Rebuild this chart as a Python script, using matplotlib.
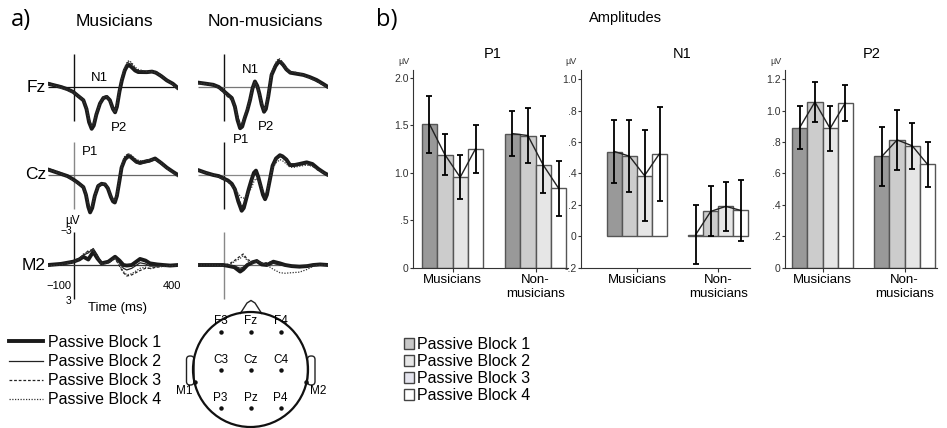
import numpy as np
import matplotlib
matplotlib.use("Agg")
import matplotlib.pyplot as plt
from matplotlib.lines import Line2D
from matplotlib.patches import Patch, Circle, Polygon, FancyBboxPatch

plt.rcParams['font.family'] = ['Liberation Sans', 'DejaVu Sans']

W, H = 947, 428

# ---------------- ERP data (time in ms, amplitude in uV, positive down) ----------------
blocks = ['Passive Block 1', 'Passive Block 2', 'Passive Block 3', 'Passive Block 4']

fz_mus_t = [-100, -75, -50, -25, -3, 15, 36, 48, 58, 68, 76, 86, 100, 113, 126, 138, 150, 158, 165, 175, 184,
            195, 205, 212, 222, 235, 247, 280, 300, 315, 335, 357, 380, 400]
fz_mus_b1 = [-0.3, -0.15, 0.0, 0.2, 0.45, 0.8, 1.2, 2.0, 3.2, 3.8, 3.5, 2.5, 1.5, 1.0, 0.9, 1.2, 2.0, 2.3, 1.8, 0.4,
             -0.6, -1.5, -1.95, -2.0, -1.8, -1.5, -1.36, -1.35, -1.4, -1.3, -1.0, -0.6, -0.3, 0.1]
fz_mus_b2 = [-0.3, -0.15, 0.0, 0.2, 0.4, 0.75, 1.1, 1.9, 3.0, 3.6, 3.3, 2.4, 1.4, 0.9, 0.8, 1.1, 1.9, 2.2, 1.7, 0.3,
             -0.7, -1.6, -2.0, -2.1, -1.9, -1.6, -1.4, -1.3, -1.35, -1.3, -1.0, -0.6, -0.3, 0.1]
fz_mus_b3 = [-0.4, -0.2, -0.1, 0.2, 0.5, 0.9, 1.3, 2.0, 3.0, 3.6, 3.5, 2.6, 1.6, 1.1, 1.0, 1.3, 2.1, 2.4, 1.7, 0.2,
             -0.8, -1.7, -2.2, -2.3, -2.1, -1.7, -1.5, -1.4, -1.45, -1.4, -1.1, -0.7, -0.2, 0.2]
fz_mus_b4 = [-0.3, -0.1, 0.1, 0.3, 0.5, 0.8, 1.2, 1.9, 2.9, 3.5, 3.3, 2.4, 1.5, 1.0, 0.9, 1.3, 2.0, 2.3, 1.6, 0.2,
             -0.9, -1.8, -2.3, -2.4, -2.2, -1.8, -1.6, -1.4, -1.4, -1.3, -1.0, -0.6, -0.2, 0.3]

fz_non_t = [-100, -70, -41, -20, -3, 15, 30, 42, 52, 62, 70, 80, 90, 100, 110, 119, 128, 136, 145, 154, 161, 170,
            183, 198, 210, 218, 228, 240, 255, 280, 305, 330, 356, 380, 400]
fz_non_b1 = [-0.4, -0.3, -0.2, 0.0, 0.33, 0.7, 1.0, 1.8, 3.0, 3.75, 3.6, 2.8, 2.1, 1.2, 0.1, -0.5, -0.1, 0.6, 1.6,
             2.25, 2.0, 0.9, -1.1, -1.9, -2.3, -2.25, -2.0, -1.6, -1.3, -1.2, -1.1, -0.9, -0.64, -0.3, 0.0]
fz_non_b2 = [-0.4, -0.3, -0.2, 0.0, 0.3, 0.65, 0.9, 1.7, 2.9, 3.6, 3.5, 2.7, 2.0, 1.1, 0.1, -0.5, 0.0, 0.7, 1.6,
             2.2, 1.9, 0.8, -1.2, -2.0, -2.3, -2.2, -1.9, -1.5, -1.3, -1.2, -1.1, -0.9, -0.6, -0.3, 0.0]
fz_non_b3 = [-0.4, -0.2, -0.1, 0.1, 0.5, 0.9, 1.2, 1.8, 2.6, 3.3, 3.3, 2.7, 2.0, 1.2, 0.2, -0.4, 0.0, 0.7, 1.5,
             2.1, 1.8, 0.7, -1.3, -2.1, -2.5, -2.4, -2.1, -1.7, -1.4, -1.3, -1.1, -0.9, -0.5, -0.2, 0.1]
fz_non_b4 = [-0.3, -0.3, -0.2, 0.1, 0.4, 0.8, 1.1, 1.7, 2.7, 3.4, 3.3, 2.6, 1.9, 1.1, 0.1, -0.4, -0.1, 0.6, 1.4,
             2.0, 1.7, 0.7, -1.3, -2.2, -2.6, -2.5, -2.1, -1.7, -1.4, -1.3, -1.1, -0.8, -0.5, -0.2, 0.1]

cz_mus_t = [-100, -75, -50, -25, -3, 15, 36, 46, 55, 62, 70, 80, 93, 106, 119, 130, 142, 150, 157, 165, 175, 183,
            195, 207, 215, 225, 240, 254, 270, 290, 312, 335, 357, 380, 400]
cz_mus_b1 = [-0.5, -0.3, -0.1, 0.1, 0.4, 0.7, 1.1, 1.8, 2.9, 3.4, 3.0, 1.9, 1.0, 0.8, 0.85, 1.2, 2.0, 2.4, 2.5, 1.9,
             0.5, -0.67, -1.4, -1.7, -1.7, -1.5, -1.2, -1.1, -1.2, -1.3, -1.5, -1.1, -0.67, -0.3, 0.0]
cz_mus_b2 = [-0.5, -0.3, -0.1, 0.1, 0.4, 0.7, 1.0, 1.7, 2.7, 3.2, 2.8, 1.8, 1.0, 0.8, 0.8, 1.1, 1.9, 2.3, 2.4, 1.8,
             0.5, -0.6, -1.3, -1.6, -1.6, -1.4, -1.1, -1.0, -1.1, -1.2, -1.4, -1.0, -0.6, -0.3, 0.0]
cz_mus_b3 = [-0.6, -0.4, -0.2, 0.1, 0.5, 0.8, 1.2, 1.8, 2.6, 3.1, 2.9, 2.0, 1.1, 0.9, 0.9, 1.2, 2.0, 2.3, 2.4, 1.8,
             0.4, -0.8, -1.6, -1.9, -1.9, -1.6, -1.3, -1.2, -1.3, -1.4, -1.5, -1.2, -0.7, -0.3, 0.1]
cz_mus_b4 = [-0.5, -0.3, -0.1, 0.2, 0.5, 0.8, 1.1, 1.7, 2.5, 3.0, 2.8, 1.9, 1.0, 0.8, 0.8, 1.1, 1.9, 2.2, 2.3, 1.7,
             0.3, -0.9, -1.7, -1.9, -1.9, -1.7, -1.4, -1.3, -1.3, -1.4, -1.4, -1.1, -0.6, -0.2, 0.2]

cz_non_t = [-100, -70, -41, -20, -3, 15, 30, 42, 55, 68, 76, 85, 95, 105, 115, 123, 132, 141, 150, 158, 165, 175,
            187, 200, 215, 225, 240, 254, 270, 290, 318, 340, 363, 385, 400]
cz_non_b1 = [-0.45, -0.2, 0.0, 0.1, 0.3, 0.5, 0.8, 1.3, 2.4, 3.25, 3.0, 2.2, 1.3, 0.5, -0.2, -0.4, 0.2, 1.0, 1.8,
             2.2, 1.8, 0.6, -0.85, -1.5, -1.8, -1.7, -1.4, -0.9, -0.9, -1.0, -1.15, -1.0, -0.55, -0.2, 0.0]
cz_non_b2 = [-0.45, -0.2, 0.0, 0.1, 0.3, 0.5, 0.8, 1.2, 2.2, 3.0, 2.8, 2.1, 1.3, 0.5, -0.1, -0.3, 0.2, 1.0, 1.7,
             2.1, 1.7, 0.5, -0.9, -1.5, -1.8, -1.7, -1.4, -1.0, -1.0, -1.0, -1.1, -0.9, -0.5, -0.2, 0.0]
cz_non_b3 = [-0.4, -0.2, 0.0, 0.2, 0.4, 0.6, 0.9, 1.3, 2.1, 2.8, 2.7, 2.1, 1.4, 0.6, 0.0, -0.2, 0.3, 1.0, 1.6,
             2.0, 1.6, 0.5, -0.8, -1.4, -1.7, -1.6, -1.3, -0.9, -0.9, -0.9, -1.0, -0.8, -0.5, -0.2, 0.1]
cz_non_b4 = [-0.4, -0.2, 0.0, 0.2, 0.3, 0.6, 1.0, 1.3, 1.7, 2.1, 2.1, 1.9, 1.6, 1.2, 0.6, 0.3, 0.5, 0.9, 1.4,
             1.8, 1.5, 0.5, -0.6, -1.1, -1.4, -1.3, -1.0, -0.7, -0.7, -0.8, -0.9, -0.8, -0.4, -0.2, 0.1]

m2_mus_t = [-100, -50, -3, 20, 36, 55, 74, 90, 106, 132, 158, 175, 190, 203, 222, 254, 275, 292, 320, 343, 370, 400]
m2_mus_b1 = [0.0, -0.1, -0.3, -0.5, -0.75, -0.5, -1.2, -0.6, -0.15, -0.3, -0.75, -0.4, 0.0, 0.05, 0.0, -0.55,
             -0.4, -0.15, -0.05, 0.0, 0.05, 0.0]
m2_mus_b2 = [0.0, -0.1, -0.35, -0.6, -0.9, -1.1, -1.5, -0.9, -0.2, -0.3, -0.7, -0.2, 0.3, 0.45, 0.3, -0.2,
             -0.1, 0.1, 0.1, 0.0, 0.05, 0.0]
m2_mus_b3 = [0.1, -0.05, -0.3, -0.6, -0.9, -1.3, -1.4, -0.8, -0.1, -0.2, -0.6, 0.1, 0.7, 1.0, 0.9, 0.5,
             0.3, 0.3, 0.2, 0.1, 0.1, 0.05]
m2_mus_b4 = [0.05, 0.0, -0.25, -0.5, -1.0, -1.2, -1.3, -0.7, -0.05, -0.2, -0.6, 0.0, 0.6, 0.9, 0.8, 0.3,
             0.2, 0.35, 0.15, 0.15, 0.05, 0.1]

m2_non_t = [-100, -50, -3, 20, 40, 62, 74, 90, 110, 126, 145, 165, 190, 215, 235, 260, 290, 320, 343, 370, 400]
m2_non_b1 = [0.0, 0.0, 0.0, 0.1, 0.2, 0.6, 0.4, 0.0, -0.25, -0.36, -0.05, 0.0, -0.3, -0.15, 0.0, 0.1, 0.15,
             0.1, 0.0, -0.05, 0.0]
m2_non_b2 = [0.0, 0.0, 0.0, 0.05, 0.1, 0.3, 0.2, -0.1, -0.3, -0.4, -0.1, -0.05, -0.15, 0.0, 0.05, 0.1, 0.1,
             0.05, 0.0, 0.0, 0.0]
m2_non_b3 = [0.0, 0.0, 0.0, -0.1, -0.4, -0.8, -1.0, -0.5, -0.3, -0.45, -0.2, -0.2, -0.3, -0.1, 0.0, 0.1, 0.2,
             0.1, 0.0, 0.0, 0.0]
m2_non_b4 = [0.0, 0.0, 0.05, 0.0, -0.3, -0.6, -0.85, -0.4, -0.1, -0.35, -0.2, 0.0, 0.4, 0.7, 0.75, 0.7, 0.65,
             0.4, 0.1, 0.0, 0.0]

# ---------------- Amplitude bar data ----------------
groups = ['Musicians', 'Non-\nmusicians']

p1_mus = [1.51, 1.19, 0.95, 1.25]
p1_mus_err = [0.30, 0.22, 0.23, 0.25]
p1_non = [1.41, 1.39, 1.08, 0.835]
p1_non_err = [0.24, 0.29, 0.30, 0.29]

n1_mus = [0.54, 0.51, 0.386, 0.527]
n1_mus_err = [0.20, 0.23, 0.29, 0.30]
n1_non = [0.01, 0.158, 0.19, 0.164]
n1_non_err = [0.19, 0.16, 0.155, 0.197]

p2_mus = [0.893, 1.056, 0.887, 1.05]
p2_mus_err = [0.14, 0.127, 0.142, 0.117]
p2_non = [0.709, 0.814, 0.776, 0.658]
p2_non_err = [0.19, 0.19, 0.147, 0.143]

p1_ticks = [0, 0.5, 1.0, 1.5, 2.0]
p1_ticklabels = ['0', '.5', '1.0', '1.5', '2.0']
n1_ticks = [-0.2, 0, 0.2, 0.4, 0.6, 0.8, 1.0]
n1_ticklabels = ['-.2', '0', '.2', '.4', '.6', '.8', '1.0']
p2_ticks = [0, 0.2, 0.4, 0.6, 0.8, 1.0, 1.2]
p2_ticklabels = ['0', '.2', '.4', '.6', '.8', '1.0', '1.2']

electrodes = [['F3', 'Fz', 'F4'], ['C3', 'Cz', 'C4'], ['P3', 'Pz', 'P4']]

# ---------------- figure ----------------
fig = plt.figure(figsize=(9.47, 4.28), dpi=100)


def px_axes(x0, y0, x1, y1):
    return fig.add_axes([x0 / W, 1 - y1 / H, (x1 - x0) / W, (y1 - y0) / H])


line_styles = [dict(color='#1a1a1a', lw=2.8, ls='-'),
               dict(color='#222222', lw=0.9, ls='-'),
               dict(color='#222222', lw=0.9, ls=(0, (2.2, 1.5))),
               dict(color='#333333', lw=0.9, ls=(0, (1.0, 1.2)))]

erp_panels = [
    (48, 87, fz_mus_t, [fz_mus_b1, fz_mus_b2, fz_mus_b3, fz_mus_b4], '#111111', '#111111'),
    (198, 87, fz_non_t, [fz_non_b1, fz_non_b2, fz_non_b3, fz_non_b4], '#111111', '#777777'),
    (48, 175, cz_mus_t, [cz_mus_b1, cz_mus_b2, cz_mus_b3, cz_mus_b4], '#888888', '#666666'),
    (198, 175, cz_non_t, [cz_non_b1, cz_non_b2, cz_non_b3, cz_non_b4], '#111111', '#888888'),
    (48, 265, m2_mus_t, [m2_mus_b1, m2_mus_b2, m2_mus_b3, m2_mus_b4], '#111111', '#333333'),
    (198, 265, m2_non_t, [m2_non_b1, m2_non_b2, m2_non_b3, m2_non_b4], '#888888', '#666666'),
]

scale = 11.0  # px per uV
for x0, base, t, curves, vcol, hcol in erp_panels:
    ax = px_axes(x0, base - 4 * scale, x0 + 130, base + 4.5 * scale)
    ax.set_xlim(-100, 400)
    ax.set_ylim(4.5, -4)
    ax.axis('off')
    ax.vlines(0, -3, 3.1, color=vcol, lw=1.0)
    ax.hlines(0, -100, 400, color=hcol, lw=0.9)
    for vals, st in zip(curves, line_styles):
        ax.plot(t, vals, solid_capstyle='round', solid_joinstyle='round', **st)

# bar charts
bar_colors = ['#999999', '#cccccc', '#e6e6e6', '#ffffff']
w = 0.185
bar_panels = [
    ('P1', 413, 568, 452.5, 83.0, (0, 2.08), p1_mus, p1_mus_err, p1_non, p1_non_err,
     p1_ticks, p1_ticklabels, 0.514),
    ('N1', 581, 750, 637.0, 81.3, (-0.2, 1.06), n1_mus, n1_mus_err, n1_non, n1_non_err,
     n1_ticks, n1_ticklabels, 0.596),
    ('P2', 785, 937, 822.5, 82.2, (0, 1.26), p2_mus, p2_mus_err, p2_non, p2_non_err,
     p2_ticks, p2_ticklabels, 0.57),
]
for (title, ax0, ax1, gc, gsp, ylim, mus, mus_e, non, non_e,
     ticks, ticklabels, tx) in bar_panels:
    ax = px_axes(ax0, 70, ax1, 267.5)
    ax.set_xlim(-(gc - ax0) / gsp, (ax1 - gc) / gsp)
    ax.set_ylim(*ylim)
    offs = (np.arange(4) - 1.5) * w
    for gi, (m, e) in enumerate([(mus, mus_e), (non, non_e)]):
        xs = gi + offs
        ax.bar(xs, m, w, color=bar_colors, edgecolor='#555555', lw=1.0, zorder=2)
        ax.plot(xs, m, color='#222222', lw=1.0, zorder=3)
        ax.errorbar(xs, m, yerr=e, fmt='none', ecolor='black', elinewidth=1.3,
                    capsize=2.3, capthick=1.3, zorder=4)
    for s in ['top', 'right']:
        ax.spines[s].set_visible(False)
    ax.spines['left'].set_color('#333333')
    ax.spines['bottom'].set_color('#333333')
    ax.set_xticks([0, 1], groups, fontsize=9.5)
    ax.tick_params(axis='x', length=3, pad=2, color='#333333')
    ax.set_yticks(ticks, ticklabels, fontsize=7.5, color='#333333')
    ax.tick_params(axis='y', length=2, pad=1, color='#333333')
    ax.set_title(title, x=tx, fontsize=10.5, pad=9)
    ax.text(-0.06, 1.02, 'µV', transform=ax.transAxes, fontsize=6.5, color='#333333',
            ha='center', va='bottom')

# overlay in pixel coordinates for labels and scalp map
ov = fig.add_axes([0, 0, 1, 1], facecolor='none')
ov.set_xlim(0, W)
ov.set_ylim(H, 0)
ov.axis('off')

ov.text(21, 20, 'a)', fontsize=17, family='Open Sans', ha='center', va='center')
ov.text(387, 20, 'b)', fontsize=17, family='Open Sans', ha='center', va='center')
ov.text(114.5, 21, 'Musicians', fontsize=12.5, ha='center', va='center')
ov.text(265.5, 21, 'Non-musicians', fontsize=12.5, ha='center', va='center')
ov.text(625, 18, 'Amplitudes', fontsize=10.5, ha='center', va='center')

for lab, y in [('Fz', 87), ('Cz', 174), ('M2', 265)]:
    ov.text(46, y, lab, fontsize=12.5, ha='right', va='center')

for lab, x, y in [('N1', 99, 78), ('P2', 119, 128), ('P1', 90, 152),
                  ('N1', 250, 70), ('P2', 266, 127), ('P1', 241, 140)]:
    ov.text(x, y, lab, fontsize=9.5, ha='center', va='center')

ov.text(73, 221, 'µV', fontsize=8.5, ha='center', va='center')
ov.text(72, 231, '\u22123', fontsize=7.5, ha='right', va='center')
ov.text(59, 286, '\u2212100', fontsize=8, ha='center', va='center')
ov.text(172, 286, '400', fontsize=8, ha='center', va='center')
ov.text(71, 301, '3', fontsize=7.5, ha='right', va='center')
ov.text(117, 308, 'Time (ms)', fontsize=9.5, ha='center', va='center')

# scalp map
cx, cy, r = 250.5, 369.5, 57.5
for ex in [186.5, 307.5]:
    ov.add_patch(FancyBboxPatch((ex, 356), 7.5, 29, boxstyle='round,pad=0,rounding_size=3.5',
                                fc='white', ec='#222222', lw=1.0, zorder=2))
ov.add_patch(Polygon([(240, 314), (247, 303), (251, 300.5), (255, 303), (262, 314)],
                     closed=False, fc='white', ec='#222222', lw=1.0, zorder=2))
ov.add_patch(Circle((cx, cy), r, fc='none', ec='#111111', lw=1.6, zorder=3))
for ri, row in enumerate(electrodes):
    for ci, name in enumerate(row):
        ex = cx + (ci - 1) * 30
        ey = cy - 38 + ri * 38.3
        ov.plot(ex, ey, 'o', ms=2.2, color='#111111', zorder=4)
        ov.text(ex, ey - 10, name, fontsize=8.5, ha='center', va='center', zorder=4)
for name, sx, tx_ in [('M1', -1, -11), ('M2', 1, 12)]:
    ex = cx + sx * 55.5
    ov.plot(ex, cy + 12, 'o', ms=2.2, color='#111111', zorder=4)
    ov.text(ex + tx_, cy + 21, name, fontsize=8.5, ha='center', va='center', zorder=4)

# legends
erp_handles = [Line2D([], [], **st) for st in line_styles]
fig.legend(erp_handles, blocks, loc='upper left', bbox_to_anchor=(9 / W, 1 - 335 / H),
           frameon=False, fontsize=11.5, handlelength=2.15, handletextpad=0.3,
           labelspacing=0.26, borderaxespad=0, borderpad=0)

legend_colors = ['#c8c8c8', '#e6e6e6', '#e4e4ee', '#ffffff']
bar_handles = [Patch(fc=c, ec='#444444', lw=1.0) for c in legend_colors]
fig.legend(bar_handles, blocks, loc='upper left', bbox_to_anchor=(404 / W, 1 - 337 / H),
           frameon=False, fontsize=11.5, handlelength=0.62, handleheight=0.62,
           handletextpad=0.2, labelspacing=0.13, borderaxespad=0, borderpad=0)

fig.savefig('out.png', dpi=100)
